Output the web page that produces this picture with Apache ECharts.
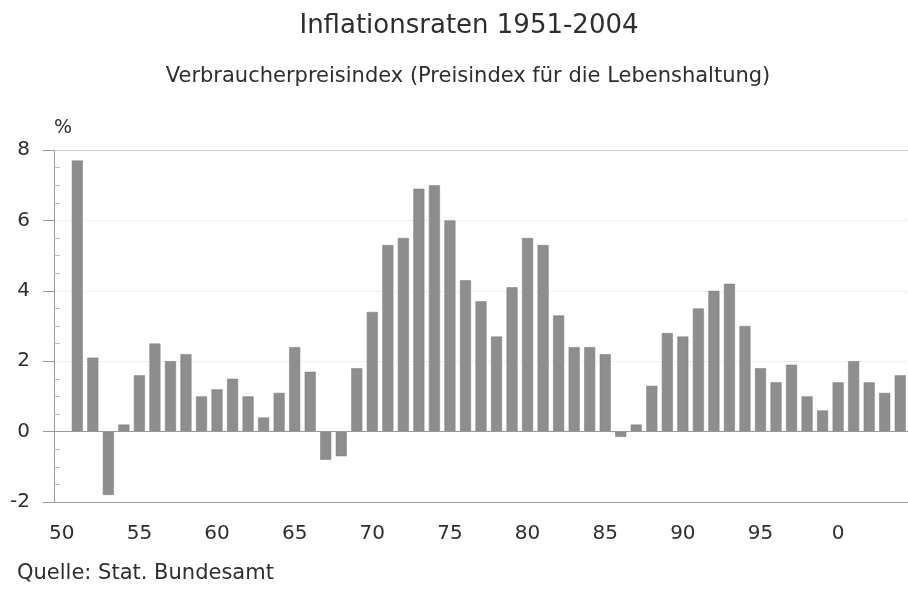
<!DOCTYPE html>
<html>
<head>
<meta charset="utf-8">
<script src="https://cdn.jsdelivr.net/npm/echarts@6/dist/echarts.min.js"></script>
<style>
    html, body { margin: 0; padding: 0; background: #fff; }
    #chart { width: 908px; height: 593px; }
</style>
</head>
<body>
<div id="chart"></div>
<script>
// Jahre 1950-2004 (1950 ohne Wert)
const years = []
for (let y = 1950; y <= 2004; y++) years.push(String(y))

// Inflationsraten in %
const rates = [
    null, 7.7, 2.1, -1.8, 0.2, 1.6, 2.5, 2.0, 2.2, 1.0,
    1.2, 1.5, 1.0, 0.4, 1.1, 2.4, 1.7, -0.8, -0.7, 1.8,
    3.4, 5.3, 5.5, 6.9, 7.0, 6.0, 4.3, 3.7, 2.7, 4.1,
    5.5, 5.3, 3.3, 2.4, 2.4, 2.2, -0.15, 0.2, 1.3, 2.8,
    2.7, 3.5, 4.0, 4.2, 3.0, 1.8, 1.4, 1.9, 1.0, 0.6,
    1.4, 2.0, 1.4, 1.1, 1.6
]

const yTicks = [-2, 0, 2, 4, 6, 8]

const textColor = '#2e2e2e'
const axisColor = '#999'
const font = 'DejaVu Sans, sans-serif'

const myChart = echarts.init(document.getElementById('chart'))
const options = {
    animation: false,
    textStyle: { fontFamily: font },
    title: [
        {
            text: 'Inflationsraten 1951-2004',
            left: 464, top: 8, textAlign: 'center',
            textStyle: { fontSize: 26, fontWeight: 'normal', color: textColor, fontFamily: font }
        },
        {
            text: 'Verbraucherpreisindex (Preisindex für die Lebenshaltung)',
            left: 463, top: 61, textAlign: 'center',
            textStyle: { fontSize: 21, fontWeight: 'normal', color: textColor, fontFamily: font }
        },
        {
            text: 'Quelle: Stat. Bundesamt',
            left: 12, top: 558,
            textStyle: { fontSize: 21, fontWeight: 'normal', color: textColor, fontFamily: font }
        }
    ],
    grid: {
        left: 54,
        right: -8,
        top: 150,
        bottom: 91
    },
    xAxis: {
        type: 'category',
        data: years,
        boundaryGap: true,
        axisLine: { onZero: false, lineStyle: { color: axisColor, width: 1 } },
        axisTick: {
            alignWithLabel: true,
            interval: 0,
            length: 11,
            lineStyle: { color: axisColor }
        },
        axisLabel: {
            interval: (i, v) => Number(v) % 5 === 0,
            formatter: v => String(Number(v) % 100),
            fontSize: 20,
            color: textColor,
            margin: 22
        },
        splitLine: { show: false }
    },
    yAxis: [
        {
            type: 'value',
            min: yTicks[0],
            max: yTicks[yTicks.length - 1],
            interval: 2,
            name: '%',
            nameLocation: 'end',
            nameGap: 12,
            nameTextStyle: { fontSize: 19, color: textColor, align: 'left' },
            axisLine: { show: true, lineStyle: { color: axisColor } },
            axisTick: { show: true, length: 11, lineStyle: { color: axisColor } },
            axisLabel: { fontSize: 20, color: textColor, margin: 24 },
            splitLine: { show: true, lineStyle: { color: '#e2e2e2', type: 'dotted' } }
        },
        {
            type: 'value',
            min: yTicks[0],
            max: yTicks[yTicks.length - 1],
            interval: 2,
            position: 'left',
            axisLine: { show: false },
            axisTick: { show: false, inside: true, length: 6 },
            minorTick: { show: true, splitNumber: 4, length: 6, lineStyle: { color: '#bbb' } },
            axisLabel: { show: false },
            splitLine: { show: false }
        }
    ],
    series: [
        {
            type: 'bar',
            data: rates,
            barWidth: 11,
            itemStyle: { color: '#8e8e8e', borderColor: '#7a7a7a', borderWidth: 0.5 },
            markLine: {
                silent: true,
                symbol: 'none',
                label: { show: false },
                data: [
                    { yAxis: 0, lineStyle: { color: '#999', type: 'solid', width: 1 } },
                    { yAxis: 8, lineStyle: { color: '#ccc', type: 'solid', width: 1 } }
                ]
            }
        }
    ]
}
myChart.setOption(options)
</script>
</body>
</html>
